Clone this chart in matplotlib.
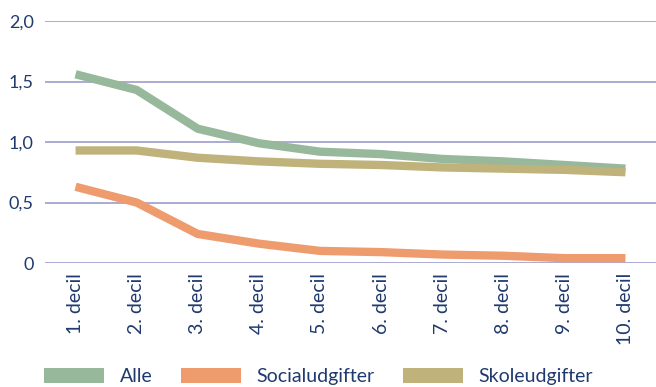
import matplotlib
matplotlib.use("Agg")
import matplotlib.pyplot as plt
from matplotlib.patches import Patch

categories = ["1. decil", "2. decil", "3. decil", "4. decil", "5. decil",
              "6. decil", "7. decil", "8. decil", "9. decil", "10. decil"]
alle = [1.56, 1.43, 1.11, 0.99, 0.92, 0.90, 0.86, 0.84, 0.81, 0.78]
social = [0.63, 0.50, 0.24, 0.16, 0.10, 0.09, 0.07, 0.06, 0.04, 0.04]
skole = [0.93, 0.93, 0.87, 0.84, 0.82, 0.81, 0.79, 0.78, 0.77, 0.75]
yticks = [0, 0.5, 1.0, 1.5, 2.0]
ytick_labels = ["0", "0,5", "1,0", "1,5", "2,0"]
series_names = ["Alle", "Socialudgifter", "Skoleudgifter"]
colors = ["#97B89A", "#EE9B6E", "#BFB27A"]

plt.rcParams['font.family'] = ['Lato', 'DejaVu Sans']
text_color = "#1F3A6E"
grid_color = "#9C9CCC"

fig = plt.figure(figsize=(6.56, 3.87), dpi=100)
ax = fig.add_axes([0.0686, 0.3204, 0.9314, 0.6253])

x = list(range(len(categories)))
for vals, c in zip([alle, social, skole], colors):
    ax.plot(x, vals, color=c, lw=6, solid_capstyle='butt', solid_joinstyle='round', zorder=3)

ax.set_ylim(0, 2.0)
ax.set_xlim(-0.5, len(categories) - 0.5)
ax.set_yticks(yticks)
ax.set_yticklabels(ytick_labels)
ax.set_xticks(x)
ax.set_xticklabels(categories, rotation=90)
ax.tick_params(axis='both', length=0, labelcolor=text_color)
ax.tick_params(axis='y', pad=8, labelsize=13)
ax.tick_params(axis='x', pad=7, labelsize=14)
for yv in yticks:
    ax.axhline(yv, color=grid_color, lw=1.2, zorder=1)
for s in ax.spines.values():
    s.set_visible(False)

handles = [Patch(facecolor=c, edgecolor='none') for c in colors]
leg = fig.legend(handles, series_names, loc='lower left', bbox_to_anchor=(0.055, -0.015),
                 ncol=3, frameon=False, fontsize=14, handlelength=3.1, handleheight=0.8,
                 handletextpad=0.8, columnspacing=1.45, borderaxespad=0)
for t in leg.get_texts():
    t.set_color(text_color)

fig.savefig("out.png", dpi=100)
